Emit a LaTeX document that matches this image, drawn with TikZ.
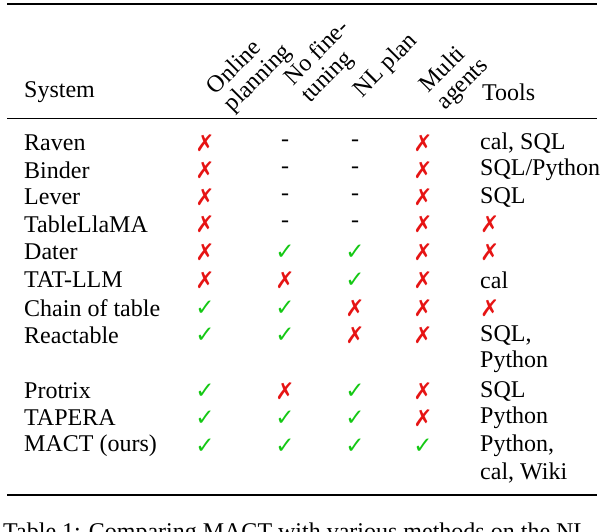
\documentclass[tikz,border=0pt]{standalone}
\usepackage{fontspec}
\setmainfont{Liberation Serif}
\newfontfamily\sym{DejaVu Sans}
\definecolor{xred}{RGB}{230,20,20}
\definecolor{vgreen}{RGB}{20,200,20}
\newcommand{\xx}{{\sym\fontsize{23}{23}\selectfont\color{xred}✗}}
\newcommand{\vv}{{\sym\fontsize{23}{23}\selectfont\color{vgreen}✓}}
\begin{document}
\begin{tikzpicture}[x=1pt,y=-1pt,every node/.style={font=\fontsize{24}{26}\selectfont,inner sep=0pt},
 lab/.style={anchor=west}, mk/.style={anchor=center}, hd/.style={rotate=45,align=left,anchor=center,font=\fontsize{24}{24}\selectfont}]
\useasboundingbox (0,0) rectangle (602,532);
\clip (0,0) rectangle (602,532);
\draw[line width=1.6pt] (7,4) -- (597,4);
\draw[line width=0.6pt] (7,118) -- (597,118);
\draw[line width=1.6pt] (7,495) -- (597,495);
\node[lab] (hs) at (24,92) {System};
\node[lab] (ht) at (482,92) {Tools};
\node[hd] (h1) at (250,70) {Online\\planning};
\node[hd] (h2) at (326,62) {No fine-\\tuning};
\node[hd] (h3) at (386,66) {NL plan};
\node[hd] (h4) at (455,76) {Multi\\agents};
\foreach \n/\y/\a/\b/\c/\d/\t in {
 Raven/143/\xx/-/-/\xx/{cal, SQL},
 Binder/170/\xx/-/-/\xx/SQL{/}Python,
 Lever/197/\xx/-/-/\xx/SQL,
 TableLlaMA/224/\xx/-/-/\xx/\xx,
 Dater/252/\xx/\vv/\vv/\xx/\xx,
 TAT-LLM/280/\xx/\xx/\vv/\xx/cal,
 Chain of table/308/\vv/\vv/\xx/\xx/\xx,
 Reactable/335/\vv/\vv/\xx/\xx/{SQL,},
 Protrix/391/\vv/\xx/\vv/\xx/SQL,
 TAPERA/418/\vv/\vv/\vv/\xx/Python,
 MACT (ours)/446/\vv/\vv/\vv/\vv/{Python,}}{
 \node[lab] at (24,\y) {\n};
 \node[mk] at (205,\y) {\a};
 \node[mk] at (285,\y) {\b};
 \node[mk] at (355,\y) {\c};
 \node[mk] at (423,\y) {\d};
 \node[lab] at (480,\y) {\t};
}
\node[lab] (p1) at (480,362) {Python};
\node[lab] (p2) at (480,473) {cal, Wiki};
\node[lab] (cap) at (3,534) {Table 1: Comparing MACT with various methods on the NL};
\end{tikzpicture}
\end{document}
